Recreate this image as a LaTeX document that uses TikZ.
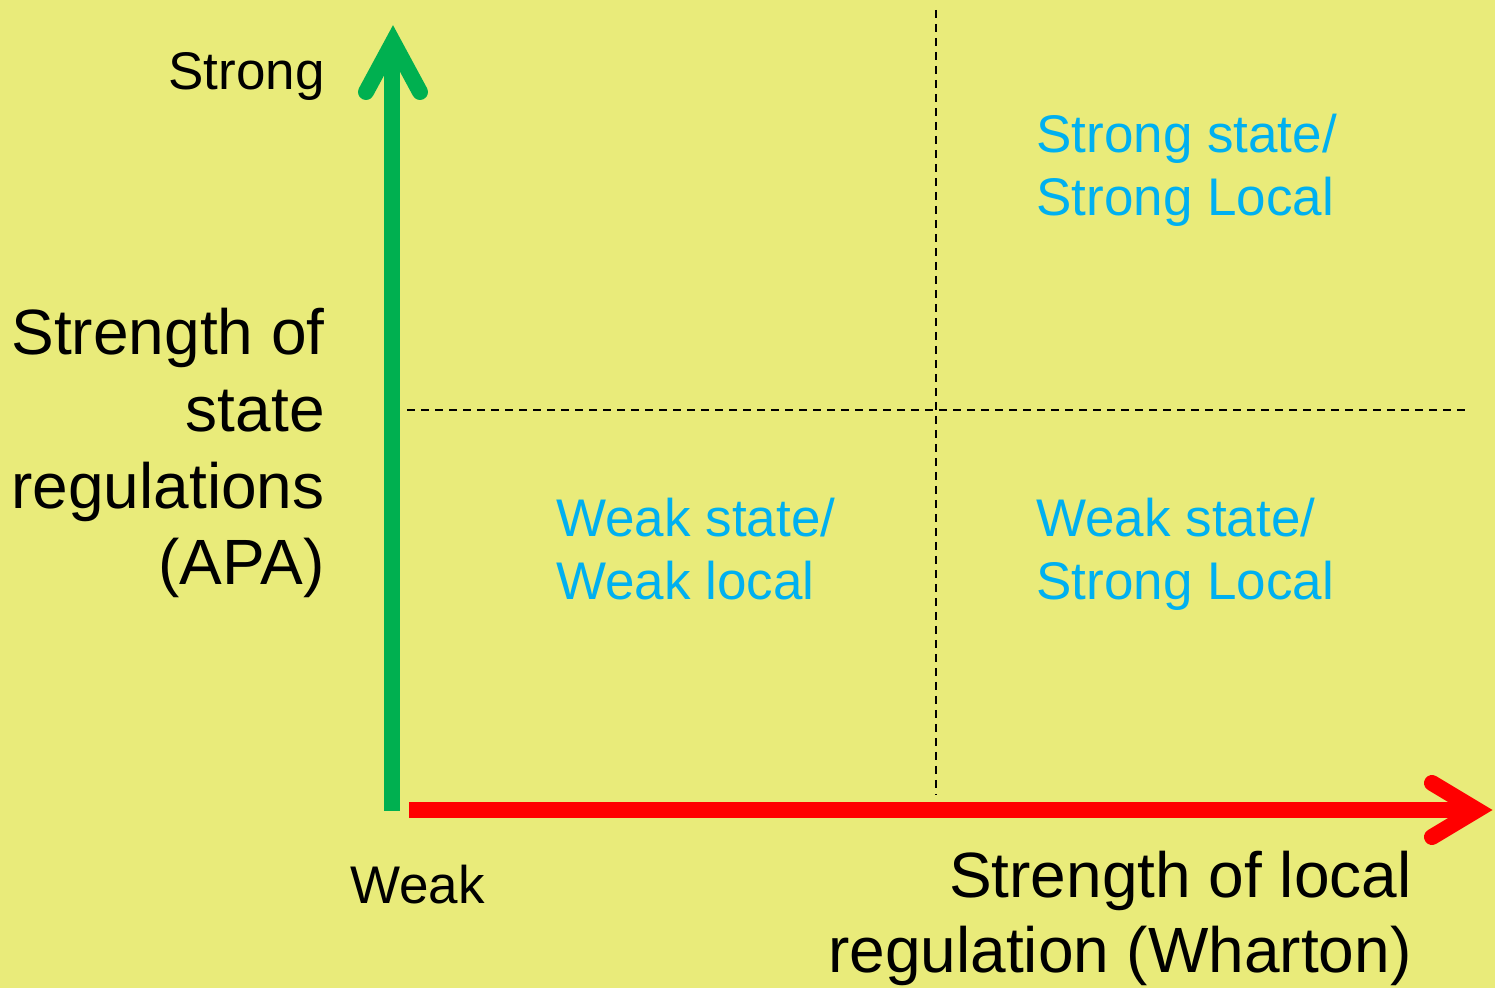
\documentclass[tikz,border=0pt]{standalone}
\usepackage{fontspec}
\setmainfont{Liberation Sans}
\definecolor{bg}{RGB}{233,235,122}
\definecolor{axgreen}{RGB}{0,176,80}
\definecolor{axred}{RGB}{255,0,0}
\definecolor{quadblue}{RGB}{0,176,240}
\begin{document}
\begin{tikzpicture}[x={(0.5pt,0)},y={(0,-0.5pt)},
  bigtxt/.style={inner sep=0pt,font=\fontsize{32pt}{35pt}\selectfont},
  smalltxt/.style={inner sep=0pt,font=\fontsize{26.5pt}{30pt}\selectfont},
  quadtxt/.style={inner sep=0pt,text=quadblue,font=\fontsize{26.5pt}{30pt}\selectfont},
  divider/.style={line width=0.8pt,dash pattern=on 4pt off 3pt},
  shaft/.style={line width=8pt},
  chevron/.style={line width=8pt,line cap=round,line join=miter}]
\fill[bg] (0,0) rectangle (1495,988);
\useasboundingbox (0,0) rectangle (1495,988);
% dividers
\coordinate (vt) at (936,10);
\coordinate (vb) at (936,795);
\coordinate (hl) at (407,410);
\coordinate (hr) at (1467,410);
\draw[divider] (vt) -- (vb);
\draw[divider] (hl) -- (hr);
% vertical axis
\coordinate (gbot) at (392,811);
\coordinate (gtop) at (392,50);
\coordinate (gl) at (366,92);
\coordinate (gtip) at (393,42);
\coordinate (gr) at (420,92);
\draw[shaft,axgreen] (gbot) -- (gtop);
\draw[chevron,axgreen] (gl) -- (gtip) -- (gr);
% horizontal axis
\coordinate (rl) at (409,810);
\coordinate (rr) at (1470,810);
\coordinate (ru) at (1432,783);
\coordinate (rtip) at (1477,810);
\coordinate (rd) at (1432,837);
\draw[shaft,axred] (rl) -- (rr);
\draw[chevron,axred] (ru) -- (rtip) -- (rd);
% axis labels
\node[smalltxt,anchor=base east] (strong) at (325,90) {Strong};
\node[smalltxt,anchor=base west] (weak) at (350,903) {Weak};
\node[bigtxt,anchor=base east] (y1) at (325,355) {Strength of};
\node[bigtxt,anchor=base east] (y2) at (325,432) {state};
\node[bigtxt,anchor=base east] (y3) at (325,509) {regulations};
\node[bigtxt,anchor=base east] (y4) at (325,585) {(APA)};
\node[bigtxt,anchor=base east] (x1) at (1412,898) {Strength of local};
\node[bigtxt,anchor=base east] (x2) at (1412,972) {regulation (Wharton)};
% quadrant labels
\node[quadtxt,anchor=base west] (q1a) at (1036,153) {Strong state/};
\node[quadtxt,anchor=base west] (q1b) at (1036,216) {Strong Local};
\node[quadtxt,anchor=base west] (q2a) at (556,537) {Weak state/};
\node[quadtxt,anchor=base west] (q2b) at (556,600) {Weak local};
\node[quadtxt,anchor=base west] (q3a) at (1036,537) {Weak state/};
\node[quadtxt,anchor=base west] (q3b) at (1036,600) {Strong Local};
\end{tikzpicture}
\end{document}
